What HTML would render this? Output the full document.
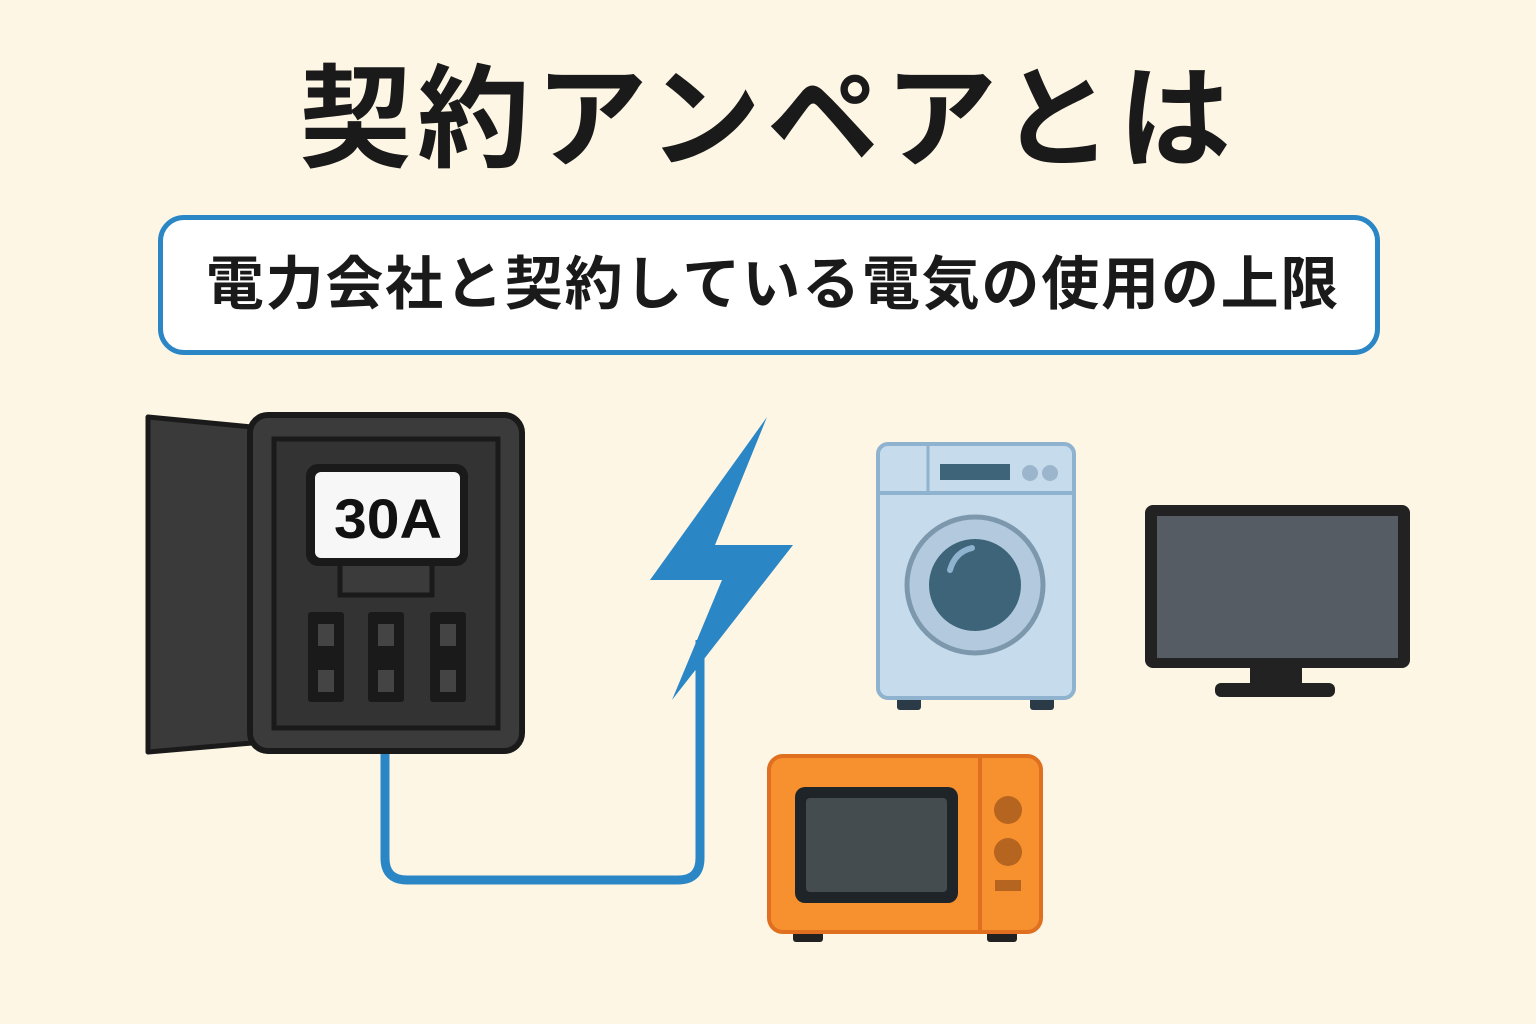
<!DOCTYPE html>
<html><head><meta charset="utf-8"><style>
html,body{margin:0;padding:0;background:#fdf6e5;}
body{width:1536px;height:1024px;position:relative;overflow:hidden;font-family:"Liberation Sans","Noto Sans CJK JP",sans-serif;}
.title{position:absolute;left:0;width:1536px;top:45px;text-align:center;font-size:112px;font-weight:700;color:#1a1a1a;line-height:150px;letter-spacing:6px;}
.box{position:absolute;left:158px;top:215px;width:1212px;height:130px;border:5px solid #2a86c5;border-radius:26px;background:#fff;}
.sub{position:absolute;left:162px;top:215px;width:1222px;height:140px;line-height:140px;text-align:center;font-size:58px;font-weight:700;color:#1a1a1a;letter-spacing:1.8px;}
svg{position:absolute;left:0;top:0;}
</style></head><body>
<div class="title">契約アンペアとは</div>
<div class="box"></div>
<div class="sub">電力会社と契約している電気の使用の上限</div>
<svg width="1536" height="1024" viewBox="0 0 1536 1024">
<path d="M385 750 L385 858 Q385 880 407 880 L678 880 Q700 880 700 858 L700 640" fill="none" stroke="#2a86c5" stroke-width="9"/>
<polygon points="767,417 650,580 722,580 672,700 793,545 715,545" fill="#2a86c5"/>
<polygon points="148,417 252,427 252,743 148,752" fill="#3a3a3a" stroke="#1a1a1a" stroke-width="5" stroke-linejoin="round"/>
<rect x="250" y="415" width="272" height="336" rx="18" fill="#3b3b3b" stroke="#1a1a1a" stroke-width="6"/>
<rect x="274" y="439" width="224" height="289" fill="#333" stroke="#1a1a1a" stroke-width="5"/>
<rect x="340" y="562" width="92" height="33" fill="#3b3b3b" stroke="#1a1a1a" stroke-width="5"/>
<rect x="306" y="464" width="162" height="102" rx="12" fill="#1a1a1a"/>
<rect x="315" y="472" width="145" height="86" rx="6" fill="#f7f7f7"/>
<text x="388" y="538" text-anchor="middle" font-family="Liberation Sans,sans-serif" font-weight="700" font-size="56" fill="#111" textLength="108" lengthAdjust="spacingAndGlyphs">30A</text>
<g fill="#1a1a1a">
<rect x="308" y="612" width="36" height="90" rx="3"/><rect x="368" y="612" width="36" height="90" rx="3"/><rect x="430" y="612" width="36" height="90" rx="3"/>
</g>
<g fill="#444">
<rect x="318" y="624" width="16" height="22"/><rect x="318" y="670" width="16" height="22"/>
<rect x="378" y="624" width="16" height="22"/><rect x="378" y="670" width="16" height="22"/>
<rect x="440" y="624" width="16" height="22"/><rect x="440" y="670" width="16" height="22"/>
</g>
<rect x="897" y="694" width="24" height="16" rx="3" fill="#2b3a47"/><rect x="1030" y="694" width="24" height="16" rx="3" fill="#2b3a47"/>
<rect x="878" y="444" width="196" height="254" rx="10" fill="#c6dcec" stroke="#8fb2cf" stroke-width="4"/>
<line x1="880" y1="493" x2="1072" y2="493" stroke="#8fb2cf" stroke-width="4"/>
<line x1="928" y1="446" x2="928" y2="493" stroke="#8fb2cf" stroke-width="3"/>
<rect x="940" y="464" width="70" height="16" fill="#3d6478"/>
<circle cx="1030" cy="473" r="8" fill="#9bb6cc"/><circle cx="1050" cy="473" r="8" fill="#9bb6cc"/>
<circle cx="975" cy="585" r="68" fill="#b3cade" stroke="#7d98ad" stroke-width="5"/>
<circle cx="975" cy="585" r="46" fill="#3d6478"/>
<path d="M950 570 Q955 552 972 548" stroke="#8fb2cf" stroke-width="6" fill="none" stroke-linecap="round"/>
<rect x="1250" y="664" width="52" height="24" fill="#222"/>
<rect x="1215" y="683" width="120" height="14" rx="6" fill="#222"/>
<rect x="1145" y="505" width="265" height="163" rx="8" fill="#222"/>
<rect x="1157" y="516" width="241" height="142" fill="#555c63"/>
<rect x="793" y="928" width="30" height="14" rx="3" fill="#222"/><rect x="987" y="928" width="30" height="14" rx="3" fill="#222"/>
<rect x="769" y="756" width="272" height="176" rx="14" fill="#f7902f" stroke="#e07020" stroke-width="4"/>
<line x1="980" y1="758" x2="980" y2="930" stroke="#e07020" stroke-width="4"/>
<rect x="795" y="787" width="163" height="116" rx="10" fill="#1f2428"/>
<rect x="806" y="798" width="141" height="94" rx="4" fill="#454c50"/>
<circle cx="1008" cy="810" r="14" fill="#b5651f"/><circle cx="1008" cy="852" r="14" fill="#b5651f"/>
<rect x="995" y="880" width="26" height="11" fill="#b5651f"/>
</svg>
</body></html>
